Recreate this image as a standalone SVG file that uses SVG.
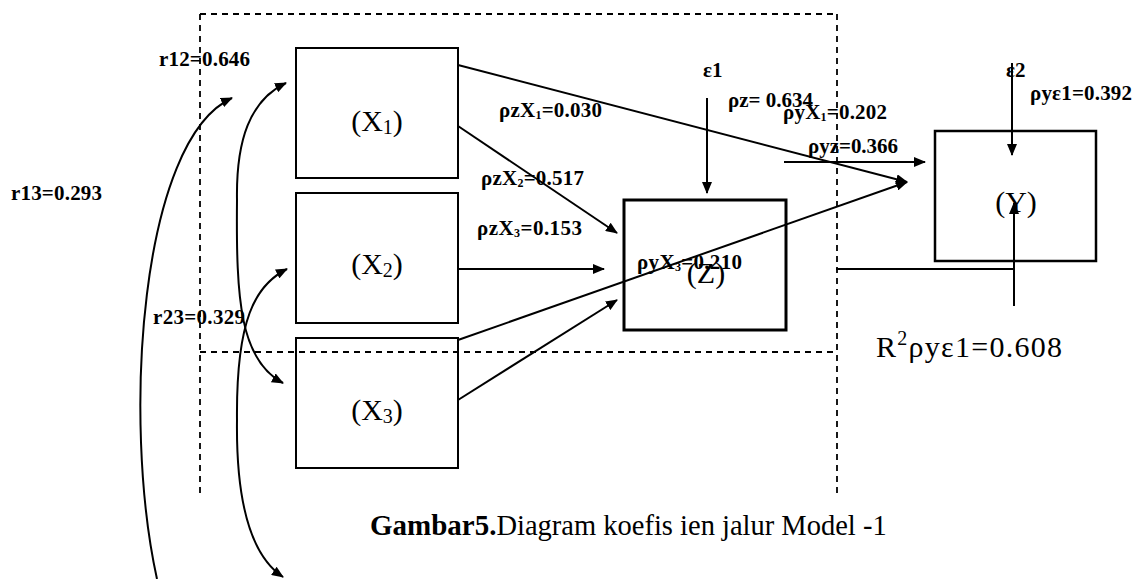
<svg xmlns="http://www.w3.org/2000/svg" width="1135" height="579" viewBox="0 0 1135 579">
<style>
.box{fill:none;stroke:#000;stroke-width:2}
.dash{fill:none;stroke:#000;stroke-width:1.8;stroke-dasharray:6 5}
.ln{fill:none;stroke:#000;stroke-width:2}
.arr{marker-end:url(#ah)}
.lbl{font-family:"Liberation Serif","Times New Roman",serif;font-weight:bold;font-size:21px;fill:#000}
.big{font-family:"Liberation Serif","Times New Roman",serif;font-size:30px;fill:#000}
</style>
<defs>
<marker id="ah" viewBox="0 0 12 10" refX="11" refY="5" markerWidth="12" markerHeight="10" markerUnits="userSpaceOnUse" orient="auto">
<path d="M0,0 L12,5 L0,10 z" fill="#000"/>
</marker>
</defs>
<rect width="1135" height="579" fill="#fff"/>
<g id="frame">
<path class="dash" d="M200,14 H836"/>
<path class="dash" d="M200,14 V496"/>
<path class="dash" d="M837,14 V494"/>
<path class="dash" d="M200,352 H837"/>
</g>
<g id="connectors">
<path class="ln arr" d="M157,579 C122,420 140,140 232,98"/>
<path class="ln arr" d="M237,200 C236,140 250,100 286,83"/>
<path class="ln arr" d="M237,200 C236,300 240,360 283,383"/>
<path class="ln arr" d="M237,420 C236,320 255,285 287,269"/>
<path class="ln arr" d="M237,420 C236,500 250,555 283,577"/>
<path class="ln arr" d="M458,65 L907,182"/>
<path class="ln arr" d="M458,340 L907,182"/>
<path class="ln arr" d="M458,126 L617,233"/>
<path class="ln arr" d="M458,269 L604,269"/>
<path class="ln arr" d="M458,400 L617,300"/>
<path class="ln arr" d="M707,98 L707,193"/>
<path class="ln arr" d="M784,162 L925,162"/>
<path class="ln arr" d="M1012,63 L1012,155"/>
<path class="ln" d="M836,269 H1014"/>
<path class="ln arr" d="M1014,306 L1014,203"/>
</g>
<g id="node-x1">
<rect class="box" x="296" y="48" width="162" height="130"/>
<text class="big" x="377" y="131" text-anchor="middle">(X<tspan font-size="20" dy="3">1</tspan><tspan dy="-3">)</tspan></text>
</g>
<g id="node-x2">
<rect class="box" x="296" y="193" width="162" height="130"/>
<text class="big" x="377" y="274" text-anchor="middle">(X<tspan font-size="20" dy="3">2</tspan><tspan dy="-3">)</tspan></text>
</g>
<g id="node-x3">
<rect class="box" x="296" y="338" width="162" height="130"/>
<text class="big" x="377" y="420" text-anchor="middle">(X<tspan font-size="20" dy="3">3</tspan><tspan dy="-3">)</tspan></text>
</g>
<g id="node-z">
<rect class="box" x="624" y="200" width="162" height="130" style="stroke-width:3"/>
<text class="big" x="706" y="283" text-anchor="middle">(Z)</text>
</g>
<g id="node-y">
<rect class="box" x="935" y="131" width="161" height="130" style="stroke-width:2.5"/>
<text class="big" x="1016" y="212" text-anchor="middle">(Y)</text>
</g>
<g id="labels">
<text class="lbl" x="159" y="66" textLength="91" lengthAdjust="spacing">r12=0.646</text>
<text class="lbl" x="11" y="200" textLength="91" lengthAdjust="spacing">r13=0.293</text>
<text class="lbl" x="153" y="324" textLength="92" lengthAdjust="spacing">r23=0.329</text>
<text class="lbl" x="499" y="117" textLength="103" lengthAdjust="spacing">ρzX<tspan font-size="12" dy="2">1</tspan><tspan dy="-2">=0.030</tspan></text>
<text class="lbl" x="481" y="185" textLength="103" lengthAdjust="spacing">ρzX<tspan font-size="12" dy="2">2</tspan><tspan dy="-2">=0.517</tspan></text>
<text class="lbl" x="477" y="235" textLength="105" lengthAdjust="spacing">ρzX<tspan font-size="12" dy="2">3</tspan><tspan dy="-2">=0.153</tspan></text>
<text class="lbl" x="637" y="269" textLength="105" lengthAdjust="spacing">ρyX<tspan font-size="12" dy="2">3</tspan><tspan dy="-2">=0.210</tspan></text>
<text class="lbl" x="703" y="77">ε1</text>
<text class="lbl" x="728" y="107" textLength="85" lengthAdjust="spacing">ρz= 0.634</text>
<text class="lbl" x="783" y="119" textLength="104" lengthAdjust="spacing">ρyX<tspan font-size="12" dy="2">1</tspan><tspan dy="-2">=0.202</tspan></text>
<text class="lbl" x="808" y="153" textLength="90" lengthAdjust="spacing">ρyz=0.366</text>
<text class="lbl" x="1006" y="77">ε2</text>
<text class="lbl" x="1030" y="100" textLength="102" lengthAdjust="spacing">ρyε1=0.392</text>
<text class="big" x="876" y="357" font-size="32" textLength="186" lengthAdjust="spacing">R<tspan font-size="20" dy="-12">2</tspan><tspan dy="12">ρyε1=0.608</tspan></text>
</g>
<g id="caption">
<text x="370" y="535" font-family="Liberation Serif,'Times New Roman',serif" font-size="28.5" fill="#000"><tspan font-weight="bold" font-size="29">Gambar5.</tspan>Diagram koefis ien jalur Model -1</text>
</g>
</svg>
